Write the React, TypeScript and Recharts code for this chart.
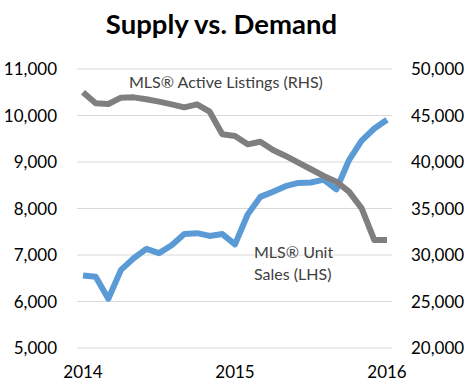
import React from 'react';
import { ComposedChart, Line, XAxis, YAxis, CartesianGrid } from 'recharts';

const monthIndex = [0,1,2,3,4,5,6,7,8,9,10,11,12,13,14,15,16,17,18,19,20,21,22,23,24];
const unitSalesLHS = [6560,6530,6060,6680,6930,7130,7040,7210,7450,7470,7410,7450,7230,7870,8250,8360,8480,8550,8560,8620,8410,9040,9460,9720,9910];
const activeListingsRHS = [47500,46310,46240,46920,46950,46740,46490,46200,45880,46200,45410,42980,42800,41900,42180,41290,40650,39930,39220,38500,37890,36810,35020,31610,31610];
const xTicks = [0, 12, 24];
const xTickLabels = ['2014', '2015', '2016'];
const leftTicks = [5000, 6000, 7000, 8000, 9000, 10000, 11000];
const rightTicks = [20000, 25000, 30000, 35000, 40000, 45000, 50000];

const data = monthIndex.map((m, i) => ({ m, sales: unitSalesLHS[i], listings: activeListingsRHS[i] }));

const fmt = (v: number) => v.toLocaleString('en-US');
const font = 'Lato, "Liberation Sans", sans-serif';

export default function App() {
  return (
    <div style={{ position: 'absolute', left: 0, top: 0, width: 468, height: 391, background: '#fff', fontFamily: font }}>
      <ComposedChart width={468} height={391} data={data} margin={{ top: 69, right: 0, bottom: 0, left: 0 }}>
        <CartesianGrid horizontal vertical={false} stroke="#d9d9d9" yAxisId="left" />
        <XAxis
          dataKey="m"
          type="number"
          domain={[0, 24]}
          ticks={xTicks}
          tickFormatter={(v: number) => xTickLabels[xTicks.indexOf(v)]}
          axisLine={false}
          tickLine={false}
          tickSize={0}
          tickMargin={18}
          height={43}
          padding={{ left: 6, right: 5 }}
          tick={{ fill: '#000', fontSize: 17, fontFamily: font }}
          interval={0}
        />
        <YAxis
          yAxisId="left"
          orientation="left"
          domain={[5000, 11000]}
          ticks={leftTicks}
          tickFormatter={fmt}
          axisLine={false}
          tickLine={false}
          tickSize={0}
          tickMargin={20}
          width={77}
          tick={{ fill: '#000', fontSize: 17, fontFamily: font }}
          interval={0}
        />
        <YAxis
          yAxisId="right"
          orientation="right"
          domain={[20000, 50000]}
          ticks={rightTicks}
          tickFormatter={fmt}
          axisLine={false}
          tickLine={false}
          tickSize={0}
          tickMargin={19}
          width={76}
          tick={{ fill: '#000', fontSize: 17, fontFamily: font, textAnchor: 'start' }}
          interval={0}
        />
        <Line yAxisId="left" dataKey="sales" stroke="#5B9BD5" strokeWidth={6} dot={false} isAnimationActive={false} strokeLinejoin="round" />
        <Line yAxisId="right" dataKey="listings" stroke="#7F7F7F" strokeWidth={6} dot={false} isAnimationActive={false} strokeLinejoin="round" />
      </ComposedChart>
      <div style={{ position: 'absolute', left: 0, width: 443, top: 5, textAlign: 'center', fontSize: 27.5, fontWeight: 700, color: '#000', lineHeight: '38px' }}>
        Supply vs. Demand
      </div>
      <div style={{ position: 'absolute', left: 129, top: 72, fontSize: 16, color: '#404040', lineHeight: '20px', whiteSpace: 'nowrap' }}>
        MLS® Active Listings (RHS)
      </div>
      <div style={{ position: 'absolute', left: 254, top: 241, fontSize: 16, color: '#404040', lineHeight: '22px', whiteSpace: 'nowrap' }}>
        MLS® Unit<br />Sales (LHS)
      </div>
    </div>
  );
}
